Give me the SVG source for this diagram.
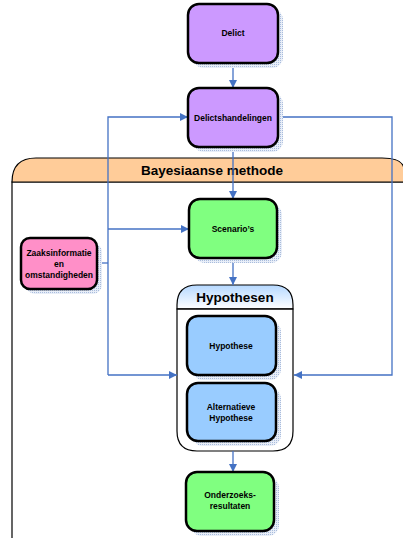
<svg xmlns="http://www.w3.org/2000/svg" width="403" height="538" viewBox="0 0 403 538">
<style>
.node{stroke:#000;stroke-width:2.5}
.shadow{fill:url(#dots)}
.lbl{font-family:"Liberation Sans",Arial,sans-serif;font-weight:bold;font-size:8.5px;text-anchor:middle;fill:#000}
.title{font-family:"Liberation Sans",Arial,sans-serif;font-weight:bold;font-size:13.5px;text-anchor:middle;fill:#000}
.conn{fill:none;stroke:#4472c4;stroke-width:1.3}
</style>
<defs>
<pattern id="dots" width="2" height="2" patternUnits="userSpaceOnUse">
<rect width="2" height="2" fill="#e8eef8"/>
<rect width="1" height="1" fill="#a9bcdc"/>
</pattern>
<marker id="arr" viewBox="0 0 10 10" refX="10" refY="5" markerWidth="8" markerHeight="8" orient="auto" markerUnits="userSpaceOnUse">
<path d="M0,0 L10,5 L0,10 z" fill="#4472c4"/>
</marker>
<linearGradient id="hgrad" x1="0" y1="0" x2="0" y2="1">
<stop offset="0" stop-color="#b5d8ff"/>
<stop offset="1" stop-color="#ffffff"/>
</linearGradient>
</defs>

<g id="bayesiaanse-methode">
<path d="M12,540 L12,182 L404,182" fill="#fff" stroke="#000" stroke-width="1.2"/>
<path d="M12,182 Q12,158 36,158 L382,158 Q404,158 404,170 L404,182 Z" fill="#ffcc99" stroke="#000" stroke-width="1.2"/>
<text class="title" x="212" y="175">Bayesiaanse methode</text>
</g>

<g id="hypothesen">
<path d="M177,309 L177,305 Q177,285 197,285 L273,285 Q293,285 293,305 L293,309 Z" fill="url(#hgrad)" stroke="#000" stroke-width="1.2"/>
<path d="M177,309 L177,431 Q177,451 197,451 L273,451 Q293,451 293,431 L293,309 Z" fill="#fff" stroke="#000" stroke-width="1.2"/>
<line x1="177" y1="309" x2="293" y2="309" stroke="#000" stroke-width="1.2"/>
<text class="title" x="235" y="302">Hypothesen</text>
</g>

<g id="connectors">
<line class="conn" x1="233" y1="63" x2="233" y2="88" marker-end="url(#arr)"/>
<polyline class="conn" points="108,375 108,117 188,117" marker-end="url(#arr)"/>
<polyline class="conn" points="278,117 392,117 392,375 294,375" marker-end="url(#arr)"/>
<line class="conn" x1="108" y1="375" x2="177" y2="375" marker-end="url(#arr)"/>
<line class="conn" x1="233" y1="147" x2="233" y2="199" marker-end="url(#arr)"/>
<line class="conn" x1="108" y1="229" x2="189" y2="229" marker-end="url(#arr)"/>
<line class="conn" x1="97" y1="263" x2="108" y2="263"/>
<line class="conn" x1="233" y1="258" x2="233" y2="285" marker-end="url(#arr)"/>
<line class="conn" x1="233" y1="451" x2="233" y2="472" marker-end="url(#arr)"/>
</g>

<g id="delict">
<rect class="shadow" x="193" y="9" width="90" height="59" rx="11"/>
<rect class="node" x="188" y="4" width="90" height="59" rx="11" fill="#cc99ff"/>
<text class="lbl" x="233" y="36">Delict</text>
</g>

<g id="delictshandelingen">
<rect class="shadow" x="193" y="93" width="90" height="59" rx="11"/>
<rect class="node" x="188" y="88" width="90" height="59" rx="11" fill="#cc99ff"/>
<text class="lbl" x="233" y="121">Delictshandelingen</text>
</g>

<g id="scenarios">
<rect class="shadow" x="194" y="204" width="88" height="59" rx="11"/>
<rect class="node" x="189" y="199" width="88" height="59" rx="11" fill="#80ff80"/>
<text class="lbl" x="233" y="232">Scenario’s</text>
</g>

<g id="zaaksinformatie">
<rect class="shadow" x="26" y="243" width="76" height="51" rx="9"/>
<rect class="node" x="21" y="238" width="76" height="51" rx="9" fill="#ff8fc8"/>
<text class="lbl" x="59" y="256">Zaaksinformatie</text>
<text class="lbl" x="59" y="267">en</text>
<text class="lbl" x="59" y="278">omstandigheden</text>
</g>

<g id="hypothese">
<rect class="shadow" x="192" y="321" width="89" height="59" rx="11"/>
<rect class="node" x="187" y="316" width="89" height="59" rx="11" fill="#99ccff"/>
<text class="lbl" x="231" y="349">Hypothese</text>
</g>

<g id="alternatieve-hypothese">
<rect class="shadow" x="192" y="388" width="89" height="58" rx="11"/>
<rect class="node" x="187" y="383" width="89" height="58" rx="11" fill="#99ccff"/>
<text class="lbl" x="231" y="410">Alternatieve</text>
<text class="lbl" x="231" y="421">Hypothese</text>
</g>

<g id="onderzoeksresultaten">
<rect class="shadow" x="191" y="477" width="88" height="59" rx="11"/>
<rect class="node" x="186" y="472" width="88" height="59" rx="11" fill="#80ff80"/>
<text class="lbl" x="230" y="498">Onderzoeks-</text>
<text class="lbl" x="230" y="509">resultaten</text>
</g>
</svg>
